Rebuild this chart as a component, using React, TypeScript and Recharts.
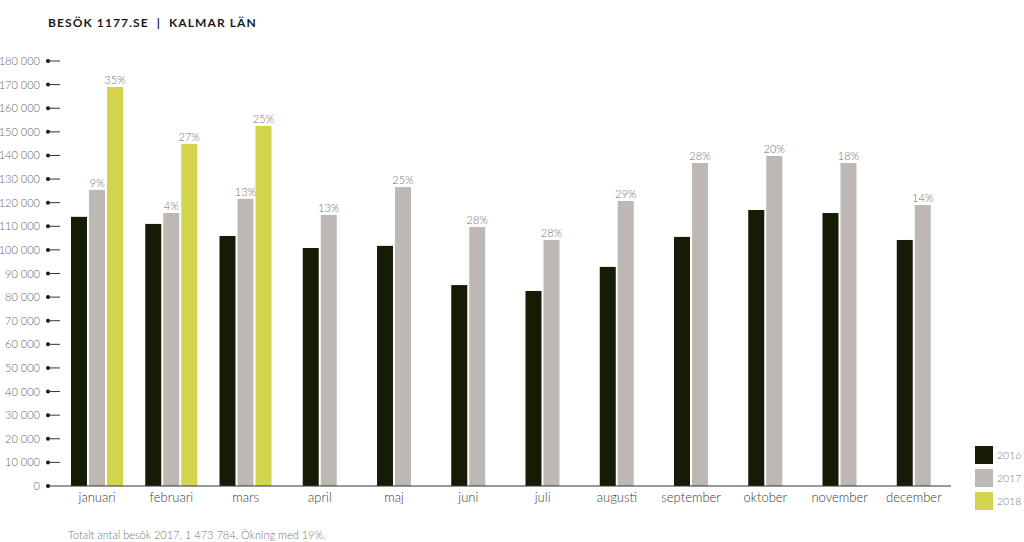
import React from "react";
import { BarChart, Bar, XAxis, YAxis } from "recharts";

const months = ["januari", "februari", "mars", "april", "maj", "juni", "juli", "augusti", "september", "oktober", "november", "december"];
const visits2016 = [114000, 111000, 105900, 100800, 101700, 85100, 82600, 92800, 105500, 116900, 115600, 104200];
const visits2017 = [125400, 115600, 121600, 114800, 126600, 109700, 104200, 120700, 136800, 139800, 136800, 119000];
const visits2018: (number | null)[] = [169000, 144900, 152500, null, null, null, null, null, null, null, null, null];
const growth2017 = ["9%", "4%", "13%", "13%", "25%", "28%", "28%", "29%", "28%", "20%", "18%", "14%"];
const growth2018: (string | null)[] = ["35%", "27%", "25%", null, null, null, null, null, null, null, null, null];
const yTicks = [0, 10000, 20000, 30000, 40000, 50000, 60000, 70000, 80000, 90000, 100000, 110000, 120000, 130000, 140000, 150000, 160000, 170000, 180000];
const seriesNames = ["2016", "2017", "2018"];
const colors = ["#161b06", "#bdb8b3", "#d2d44c"];

const data = months.map((m, i) => ({
  month: m,
  v2016: visits2016[i],
  v2017: visits2017[i],
  v2018: visits2018[i],
  p2017: growth2017[i],
  p2018: growth2018[i],
}));

const FONT = "Lato, 'Noto Sans', sans-serif";
const BAR = 16;
const GAP = 2;

const fmt = (v: number) => (v === 0 ? "0" : v.toLocaleString("en-US").replace(/,/g, " "));

const makeShape = (fill: string, labelKey: "p2017" | "p2018" | null) => (props: any) => {
  const { x, y, width, height, index } = props;
  const row = props.payload ?? data[index];
  const shift = row && (row.v2018 === null || row.v2018 === undefined) ? (width + GAP) / 2 : 0;
  const label = labelKey && row ? row[labelKey] : null;
  if (!height || height <= 0) return <g />;
  return (
    <g>
      <rect x={x + shift} y={y} width={width} height={height} fill={fill} />
      {label ? (
        <text x={x + shift + width / 2} y={y - 3} textAnchor="middle" fontSize={11} fill="#707070" fontFamily={FONT} fontWeight={300}>
          {label}
        </text>
      ) : null}
    </g>
  );
};

const YTick = (props: any) => {
  const { x, y, payload } = props;
  return (
    <g>
      <circle cx={x - 12} cy={y} r={2} fill="#111" />
      <line x1={x - 12} y1={y} x2={x} y2={y} stroke="#333" strokeWidth={1} />
      <text x={x - 20} y={y} dy={4} textAnchor="end" fontSize={11} fill="#6a6a6a" fontFamily={FONT} fontWeight={300}>
        {fmt(payload.value)}
      </text>
    </g>
  );
};

const XTick = (props: any) => {
  const { x, y, payload } = props;
  return (
    <text x={x} y={y} dy={16} textAnchor="middle" fontSize={13} fill="#3a3a3a" fontFamily={FONT} fontWeight={300}>
      {payload.value}
    </text>
  );
};

export default function App() {
  return (
    <div style={{ position: "absolute", left: 0, top: 0, width: 1024, height: 542, background: "#fff", overflow: "hidden", fontFamily: FONT }}>
      <div style={{ position: "absolute", left: 48, top: 15, fontSize: 12, fontWeight: 700, letterSpacing: 1.1, color: "#1a1a1a", whiteSpace: "pre" }}>
        {"BESÖK 1177.SE  |  KALMAR LÄN"}
      </div>
      <div style={{ position: "absolute", left: 0, top: 0 }}>
        <BarChart width={1024} height={542} data={data} margin={{ top: 61, right: 73, bottom: 26, left: 0 }} barSize={BAR} barGap={GAP}>
          <YAxis type="number" domain={[0, 180000]} ticks={yTicks} interval={0} width={60} axisLine={false} tickLine={false} tickSize={0} tickMargin={0} tick={<YTick />} />
          <XAxis dataKey="month" height={30} axisLine={{ stroke: "#333", strokeWidth: 1 }} tickLine={false} tickSize={0} tickMargin={0} tick={<XTick />} interval={0} />
          <Bar dataKey="v2016" name={seriesNames[0]} fill={colors[0]} isAnimationActive={false} shape={makeShape(colors[0], null)} />
          <Bar dataKey="v2017" name={seriesNames[1]} fill={colors[1]} isAnimationActive={false} shape={makeShape(colors[1], "p2017")} />
          <Bar dataKey="v2018" name={seriesNames[2]} fill={colors[2]} isAnimationActive={false} shape={makeShape(colors[2], "p2018")} />
        </BarChart>
      </div>
      {seriesNames.map((s, i) => (
        <div key={s} style={{ position: "absolute", left: 975, top: 446 + i * 23, display: "flex", alignItems: "center" }}>
          <div style={{ width: 18, height: 18, background: colors[i] }} />
          <span style={{ marginLeft: 4, fontSize: 10.5, color: "#777", fontWeight: 300 }}>{s}</span>
        </div>
      ))}
      <div style={{ position: "absolute", left: 68, top: 528, fontSize: 11, color: "#777", fontWeight: 300, whiteSpace: "pre" }}>
        Totalt antal besök 2017, 1 473 784. Ökning med 19%.
      </div>
    </div>
  );
}
